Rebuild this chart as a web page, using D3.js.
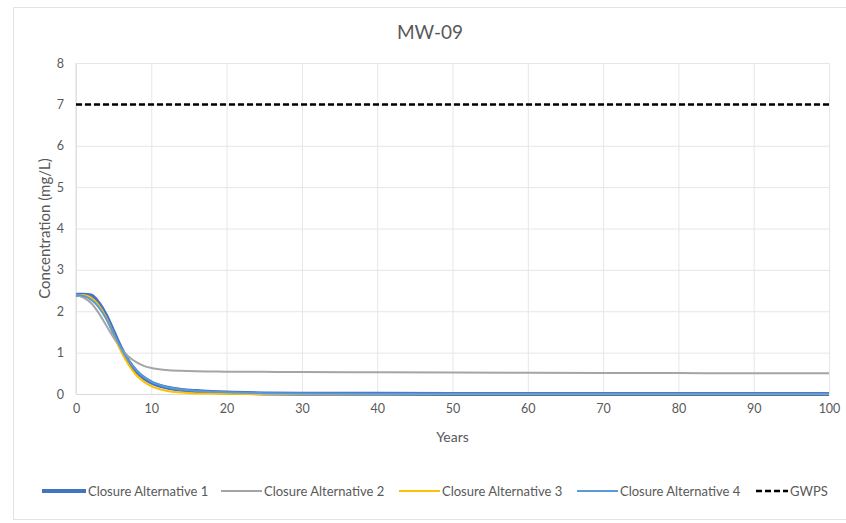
<!DOCTYPE html>
<html>
<head>
<meta charset="utf-8">
<script src="https://cdn.jsdelivr.net/npm/d3@7"></script>
<style>
  html, body { margin: 0; padding: 0; background: #fff; overflow: hidden; }
  svg { display: block; }
  text { font-family: Lato, 'Open Sans', sans-serif; }
</style>
</head>
<body>
<svg id="chart" width="846" height="523"></svg>
<script>
const years = [0, 1, 2, 3, 4, 5, 6, 7, 8, 9, 10, 12, 14, 16, 18, 20, 25, 30, 40, 50, 60, 70, 80, 90, 100];
const alt1 = [2.4, 2.4, 2.38, 2.2, 1.9, 1.5, 1.1, 0.78, 0.55, 0.39, 0.28, 0.16, 0.1, 0.07, 0.05, 0.035, 0.015, 0.008, 0.004, 0.003, 0.003, 0.003, 0.003, 0.003, 0.003];
const alt2 = [2.4, 2.33, 2.2, 1.96, 1.66, 1.36, 1.09, 0.9, 0.77, 0.68, 0.63, 0.58, 0.56, 0.55, 0.545, 0.54, 0.535, 0.53, 0.525, 0.52, 0.515, 0.51, 0.505, 0.5, 0.5];
const alt3 = [2.4, 2.39, 2.33, 2.15, 1.85, 1.45, 1.03, 0.7, 0.46, 0.3, 0.19, 0.08, 0.035, 0.015, 0.01, 0.005, 0, 0, 0, 0, 0, 0, 0, 0, 0];
const alt4 = [2.4, 2.37, 2.28, 2.1, 1.82, 1.46, 1.1, 0.8, 0.58, 0.41, 0.3, 0.17, 0.11, 0.075, 0.055, 0.04, 0.02, 0.01, 0.005, 0.004, 0.004, 0.004, 0.004, 0.004, 0.004];
const gwps = 7;
const seriesNames = ['Closure Alternative 1', 'Closure Alternative 2', 'Closure Alternative 3', 'Closure Alternative 4', 'GWPS'];
const xTicks = [0, 10, 20, 30, 40, 50, 60, 70, 80, 90, 100];
const yTicks = [0, 1, 2, 3, 4, 5, 6, 7, 8];

const svg = d3.select('#chart');
const margin = {top: 63, right: 17, left: 76, bottom: 129};
const width = +svg.attr('width');
const height = +svg.attr('height');
const innerWidth = width - margin.left - margin.right;
const innerHeight = height - margin.top - margin.bottom;

// outer chart frame
svg.append('rect')
    .attr('x', 13.5).attr('y', 7.5)
    .attr('width', 840).attr('height', 512)
    .attr('fill', 'none')
    .attr('stroke', '#e3e3e3');

const g = svg.append('g')
    .attr('transform', `translate(${margin.left}, ${margin.top})`);

const xScale = d3.scaleLinear().domain([0, 100]).range([0, innerWidth]);
const yScale = d3.scaleLinear().domain([0, 8]).range([innerHeight, 0]);

// gridlines
const gridY = g.append('g')
    .call(d3.axisLeft(yScale).tickValues(yTicks).tickSize(-innerWidth).tickFormat(''));
gridY.select('.domain').remove();
gridY.selectAll('text').remove();
gridY.selectAll('line').attr('stroke', '#e6e6e6');

const gridX = g.append('g')
    .call(d3.axisBottom(xScale).tickValues(xTicks).tickSize(innerHeight).tickFormat(''));
gridX.select('.domain').remove();
gridX.selectAll('text').remove();
gridX.selectAll('line').attr('stroke', '#e6e6e6');

// axis ticks
const yAxisG = g.append('g')
    .call(d3.axisLeft(yScale).tickValues(yTicks).tickSize(0).tickPadding(12));
yAxisG.select('.domain').remove();
yAxisG.selectAll('text').attr('fill', '#595959').style('font-size', '12.5px');

const xAxisG = g.append('g')
    .attr('transform', `translate(0, ${innerHeight})`)
    .call(d3.axisBottom(xScale).tickValues(xTicks).tickSize(0).tickPadding(10));
xAxisG.select('.domain').attr('stroke', '#d9d9d9');
xAxisG.selectAll('text').attr('fill', '#595959').style('font-size', '12.5px');

// left axis line
g.append('line')
    .attr('x1', 0).attr('x2', 0)
    .attr('y1', 0).attr('y2', innerHeight)
    .attr('stroke', '#d9d9d9');

svg.append('text')
    .attr('x', 430).attr('y', 39)
    .attr('text-anchor', 'middle')
    .attr('fill', '#595959')
    .style('font-size', '19px')
    .text('MW-09');

svg.append('text')
    .attr('transform', `translate(50, ${margin.top + innerHeight / 2}) rotate(-90)`)
    .attr('text-anchor', 'middle')
    .attr('fill', '#595959')
    .style('font-size', '15px')
    .text('Concentration (mg/L)');

svg.append('text')
    .attr('x', margin.left + innerWidth / 2).attr('y', 442)
    .attr('text-anchor', 'middle')
    .attr('fill', '#595959')
    .style('font-size', '14px')
    .text('Years');

// series
const series = [
  {name: seriesNames[0], values: alt1, color: '#4472c4', width: 4},
  {name: seriesNames[1], values: alt2, color: '#a5a5a5', width: 2},
  {name: seriesNames[2], values: alt3, color: '#ffc000', width: 2},
  {name: seriesNames[3], values: alt4, color: '#5b9bd5', width: 2}
];

const line = d3.line()
    .x((d, i) => xScale(years[i]))
    .y(d => yScale(d))
    .curve(d3.curveMonotoneX);

g.selectAll('.series')
    .data(series)
    .enter().append('path')
        .attr('class', 'series')
        .attr('fill', 'none')
        .attr('stroke', d => d.color)
        .attr('stroke-width', d => d.width)
        .attr('d', d => line(d.values));

g.append('line')
    .attr('x1', xScale(0)).attr('x2', xScale(100))
    .attr('y1', yScale(gwps)).attr('y2', yScale(gwps))
    .attr('stroke', '#000')
    .attr('stroke-width', 2.5)
    .attr('stroke-dasharray', '6,3');

// legend
const legendItems = [
  {name: seriesNames[0], color: '#4472c4', width: 4, dash: null, x: 42, len: 44},
  {name: seriesNames[1], color: '#a5a5a5', width: 2, dash: null, x: 221, len: 41},
  {name: seriesNames[2], color: '#ffc000', width: 2, dash: null, x: 399, len: 41},
  {name: seriesNames[3], color: '#5b9bd5', width: 2, dash: null, x: 577, len: 41},
  {name: seriesNames[4], color: '#000', width: 2.5, dash: '6,3', x: 756, len: 32}
];
const legendY = 491;
const lg = svg.append('g');
legendItems.forEach(d => {
  lg.append('line')
      .attr('x1', d.x).attr('x2', d.x + d.len)
      .attr('y1', legendY).attr('y2', legendY)
      .attr('stroke', d.color)
      .attr('stroke-width', d.width)
      .attr('stroke-dasharray', d.dash);
  lg.append('text')
      .attr('x', d.x + d.len + 2).attr('y', legendY + 4.5)
      .attr('fill', '#595959')
      .style('font-size', '13px')
      .text(d.name);
});
</script>
</body>
</html>
